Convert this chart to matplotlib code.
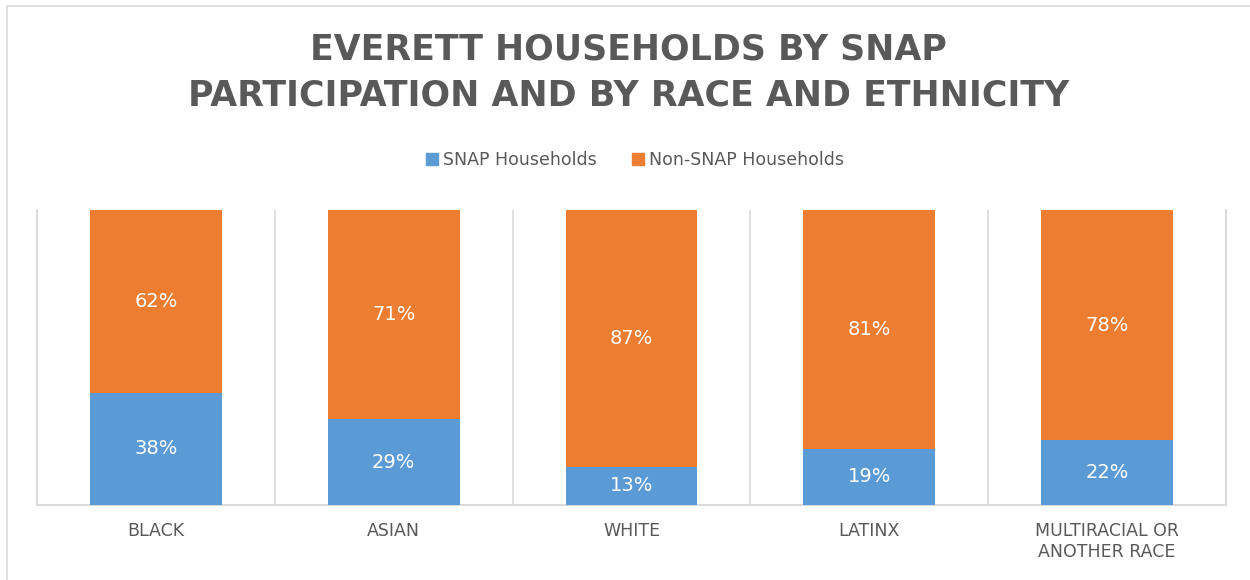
import matplotlib
matplotlib.use("Agg")
import matplotlib.pyplot as plt
from matplotlib.patches import Rectangle, Patch
import numpy as np

categories = ["BLACK", "ASIAN", "WHITE", "LATINX", "MULTIRACIAL OR\nANOTHER RACE"]
snap = [38, 29, 13, 19, 22]
non_snap = [62, 71, 87, 81, 78]
series_names = ["SNAP Households", "Non-SNAP Households"]

BLUE = "#5B9BD5"
ORANGE = "#ED7D31"
GRAY_TXT = "#595959"
GRID = "#D9D9D9"

fig = plt.figure(figsize=(12.5, 5.8), dpi=100)
fig.patch.set_facecolor("white")

# outer chart border
fig.add_artist(Rectangle((7/1250, -0.05), 1.2, 1 - 6/580 + 0.05, transform=fig.transFigure,
                         fill=False, edgecolor="#D9D9D9", linewidth=1.2))

ax = fig.add_axes([37/1250, 1 - 505/580, (1226 - 37)/1250, (505 - 210)/580])
x = np.arange(len(categories))
w = 0.555
b1 = ax.bar(x, snap, w, color=BLUE, label=series_names[0], zorder=3)
b2 = ax.bar(x, non_snap, w, bottom=snap, color=ORANGE, label=series_names[1], zorder=3)

for xi, s, n in zip(x, snap, non_snap):
    ax.text(xi, s / 2, f"{s}%", ha="center", va="center", color="white", fontsize=14, zorder=4)
    ax.text(xi, s + n / 2, f"{n}%", ha="center", va="center", color="white", fontsize=14, zorder=4)

ax.set_xlim(-0.5, len(categories) - 0.5)
ax.set_ylim(0, 100)
ax.set_yticks([])
ax.set_xticks(x)
ax.set_xticklabels(categories, fontsize=12.5, color=GRAY_TXT, linespacing=1.25)
ax.tick_params(axis="x", length=0, pad=12)
for gx in np.arange(0.5, len(categories) - 0.5, 1):
    ax.axvline(gx, color=GRID, linewidth=1.2, zorder=1)
for side in ["left", "right", "bottom"]:
    ax.spines[side].set_color(GRID)
    ax.spines[side].set_linewidth(1.4)
ax.spines["top"].set_visible(False)

fig.text(0.503, 1 - 50/580, "EVERETT HOUSEHOLDS BY SNAP", ha="center", va="center",
         fontsize=25, fontweight="bold", color=GRAY_TXT)
fig.text(0.503, 1 - 96/580, "PARTICIPATION AND BY RACE AND ETHNICITY", ha="center", va="center",
         fontsize=25, fontweight="bold", color=GRAY_TXT)

handles = [Patch(color=BLUE), Patch(color=ORANGE)]
fig.legend(handles, series_names, loc="center", bbox_to_anchor=(0.508, 1 - 160/580), ncol=2,
           frameon=False, fontsize=12.5, labelcolor=GRAY_TXT, handlelength=0.7, handleheight=0.7,
           handletextpad=0.3, columnspacing=2.0)

fig.savefig("out.png", dpi=100)
